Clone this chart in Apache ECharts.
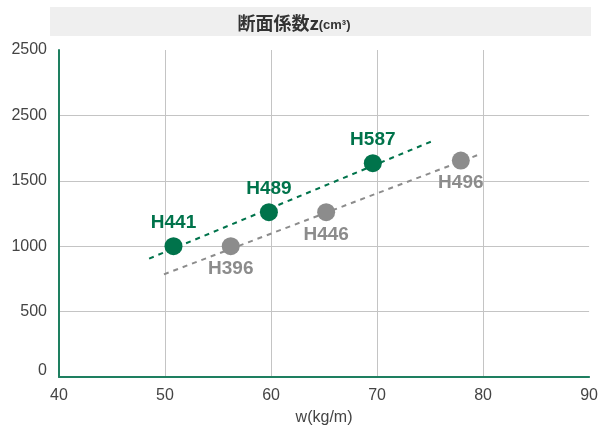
<!DOCTYPE html>
<html>
<head>
<meta charset="utf-8">
<script src="https://cdn.jsdelivr.net/npm/echarts@6/dist/echarts.min.js"></script>
<style>
  html, body { margin: 0; padding: 0; background: #fff; }
  #chart { width: 601px; height: 432px; }
</style>
</head>
<body>
<div id="chart"></div>
<script>
// data
var greenNames = ['H441', 'H489', 'H587'];
var greenW = [50.8, 59.8, 69.6];
var greenZ = [1000, 1260, 1635];
var greyNames = ['H396', 'H446', 'H496'];
var greyW = [56.2, 65.2, 77.9];
var greyZ = [1000, 1260, 1655];
// dashed trend lines (start / end)
var greenTrendW = [48.5, 75.4];
var greenTrendZ = [905, 1810];
var greyTrendW = [49.9, 79.6];
var greyTrendZ = [785, 1700];
// y tick labels as printed (the 2000 tick reads 2500 in the original)
var yTickLabels = ['0', '500', '1000', '1500', '2500', '2500'];

var GREEN = '#00734b';
var GREY = '#8c8c8c';
var GRIDC = '#c4c4c4';
var FONT = '"Liberation Sans", Arial, sans-serif';

function pts(xs, ys, names) {
    return xs.map(function (x, i) {
        var p = { value: [x, ys[i]] };
        if (names) p.name = names[i];
        return p;
    });
}

var chart = echarts.init(document.getElementById('chart'));

var option = {
    animation: false,
    backgroundColor: '#fff',
    graphic: [{
        type: 'rect',
        shape: { x: 50, y: 7, width: 541, height: 29 },
        style: { fill: '#efefef' },
        silent: true
    }],
    title: {
        text: '{a|断面係数z}{b|(cm³)}',
        left: 289,
        textAlign: 'center',
        top: 9,
        textStyle: {
            rich: {
                a: { fontSize: 18, fontWeight: 'bold', color: '#333', fontFamily: '"Noto Sans CJK JP", sans-serif' },
                b: { fontSize: 13, fontWeight: 'bold', color: '#333', fontFamily: FONT, padding: [4, 0, 0, 0] }
            }
        }
    },
    grid: { left: 59, right: 10, top: 50, bottom: 55 },
    xAxis: {
        type: 'value',
        min: 40, max: 90, interval: 10,
        name: 'w(kg/m)',
        nameLocation: 'middle',
        nameGap: 33,
        nameTextStyle: { fontSize: 16, color: '#444', fontFamily: FONT },
        axisLine: { onZero: false, lineStyle: { color: '#1e7f60', width: 2 } },
        axisTick: { show: false },
        axisLabel: { fontSize: 16, color: '#444', fontFamily: FONT, margin: 11 },
        splitLine: {
            show: true,
            lineStyle: { color: ['transparent', GRIDC, GRIDC, GRIDC, GRIDC, 'transparent'], width: 1 }
        }
    },
    yAxis: {
        type: 'value',
        min: 0, max: 2500, interval: 500,
        axisLine: { show: true, lineStyle: { color: '#1e7f60', width: 2 } },
        axisTick: { show: false },
        axisLabel: {
            fontSize: 16, color: '#444', fontFamily: FONT, margin: 12,
            formatter: function (v) {
                var t = yTickLabels[Math.round(v / 500)];
                return v === 0 ? '{z|' + t + '}' : t;
            },
            rich: { z: { fontSize: 16, color: '#444', fontFamily: FONT, padding: [0, 0, 12, 0] } }
        },
        splitLine: {
            show: true,
            lineStyle: { color: ['transparent', GRIDC, GRIDC, GRIDC, GRIDC, 'transparent'], width: 1 }
        }
    },
    series: [
        {
            type: 'line',
            data: pts(greenTrendW, greenTrendZ),
            symbol: 'none',
            lineStyle: { color: GREEN, width: 2, type: [5, 5] },
            z: 2
        },
        {
            type: 'line',
            data: pts(greyTrendW, greyTrendZ),
            symbol: 'none',
            lineStyle: { color: GREY, width: 2, type: [5, 5] },
            z: 2
        },
        {
            type: 'scatter',
            data: pts(greenW, greenZ, greenNames),
            symbolSize: 18,
            itemStyle: { color: GREEN, opacity: 1 },
            label: {
                show: true, position: 'top', distance: 5,
                formatter: '{b}',
                fontSize: 19, fontWeight: 'bold', color: GREEN, fontFamily: FONT
            },
            z: 3
        },
        {
            type: 'scatter',
            data: pts(greyW, greyZ, greyNames),
            symbolSize: 18,
            itemStyle: { color: GREY, opacity: 1 },
            label: {
                show: true, position: 'bottom', distance: 4,
                formatter: '{b}',
                fontSize: 19, fontWeight: 'bold', color: GREY, fontFamily: FONT
            },
            z: 3
        }
    ]
};

chart.setOption(option);
</script>
</body>
</html>
